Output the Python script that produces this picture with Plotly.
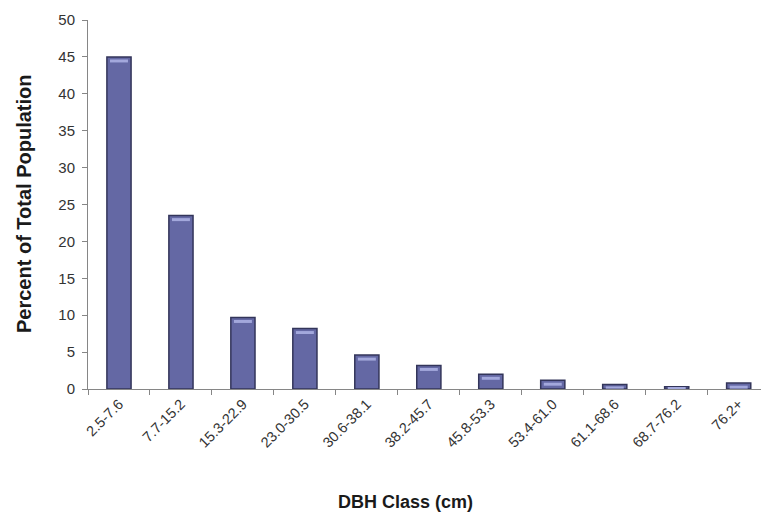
import plotly.graph_objects as go

categories = ["2.5-7.6", "7.7-15.2", "15.3-22.9", "23.0-30.5", "30.6-38.1", "38.2-45.7",
              "45.8-53.3", "53.4-61.0", "61.1-68.6", "68.7-76.2", "76.2+"]
percent = [45.0, 23.5, 9.7, 8.2, 4.6, 3.2, 2.0, 1.2, 0.6, 0.3, 0.8]

W, H = 761, 514
ML, MR, MT, MB = 88, 0, 20, 125
pw, ph = W - ML - MR, H - MT - MB


def px_to_paper(x, y):
    return (x - ML) / pw, ((H - y) - MB) / ph


fig = go.Figure()
fig.add_trace(go.Bar(
    x=categories, y=percent, width=0.39,
    marker=dict(color="#6468a4", line=dict(color="#33355a", width=1.5)),
    hoverinfo="x+y",
))
# light highlight band near the top of each bar (3-D bevel look)
hl_base = [max(v - 0.75, 0.05) for v in percent]
hl_len = [min(0.4, v * 0.5) for v in percent]
fig.add_trace(go.Bar(
    x=categories, y=hl_len, base=hl_base, width=0.29,
    marker=dict(color="#a3a8dc", line=dict(width=0)),
    hoverinfo="skip",
))

ax, ay = px_to_paper(405, 502)
bx, by = px_to_paper(24, 204)

fig.update_layout(
    width=W, height=H,
    margin=dict(l=ML, r=MR, t=MT, b=MB),
    barmode="overlay",
    plot_bgcolor="white", paper_bgcolor="white",
    font=dict(family="Liberation Sans, Arial, sans-serif", color="#333333", size=12),
    showlegend=False,
    xaxis=dict(range=[-0.5, 10.36], showline=True, linecolor="#868686", linewidth=1,
               ticks="outside", tickson="boundaries", ticklen=5, tickcolor="#868686",
               tickangle=-45, tickfont=dict(size=14.5, color="#333333"), showgrid=False),
    yaxis=dict(range=[0, 50], dtick=5, showline=True, linecolor="#868686", linewidth=1,
               ticks="outside", ticklen=5, tickcolor="#868686", showgrid=False,
               ticklabelstandoff=4,
               zeroline=False, tickfont=dict(size=15, color="#333333")),
    annotations=[
        dict(text="<b>DBH Class (cm)</b>", x=ax, y=ay, xref="paper", yref="paper",
             xanchor="center", yanchor="middle",
             showarrow=False, font=dict(size=18, color="#1a1a1a")),
        dict(text="<b>Percent of Total Population</b>", x=bx, y=by, xref="paper", yref="paper",
             xanchor="center", yanchor="middle", textangle=-90,
             showarrow=False, font=dict(size=20, color="#1a1a1a")),
    ],
)

fig.write_html("out.html", config={"displayModeBar": False},
               post_script="document.body.style.margin='0';")
